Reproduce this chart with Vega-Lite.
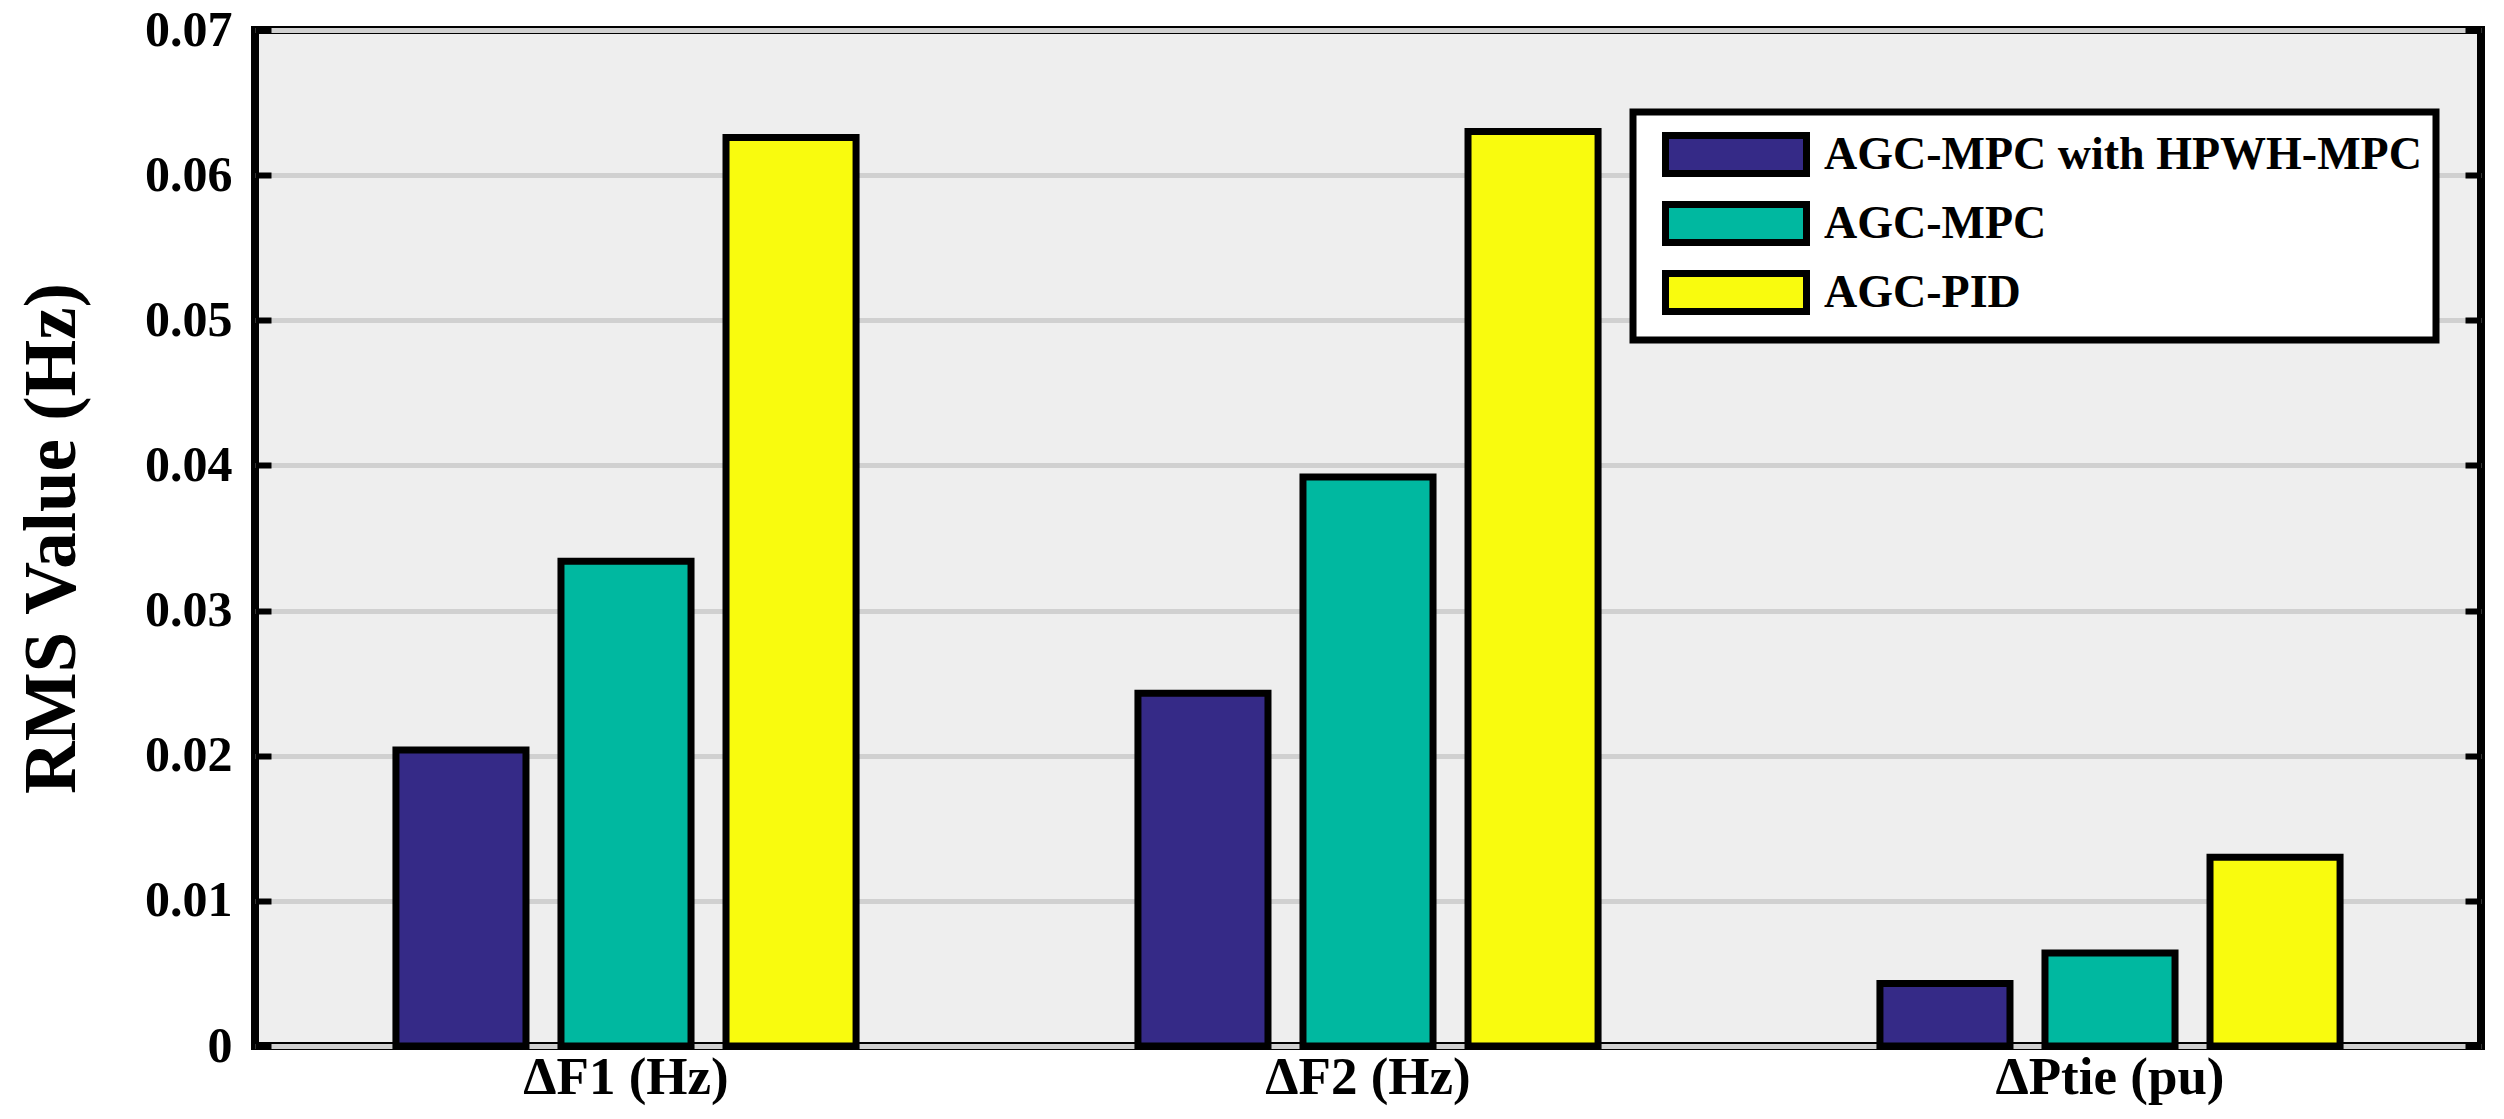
{
  "$schema": "https://vega.github.io/schema/vega-lite/v6.json",
  "width": 2226,
  "height": 1016,
  "autosize": {"type": "none"},
  "padding": {"left": 255, "top": 30, "right": 23, "bottom": 73},
  "background": "white",
  "config": {
    "view": {"fill": "#eeeeee", "stroke": "black", "strokeWidth": 8},
    "font": "Liberation Serif"
  },
  "data": {
    "values": [
      {"metric": "ΔF1 (Hz)", "controller": "AGC-MPC with HPWH-MPC", "rms": 0.0204},
      {"metric": "ΔF1 (Hz)", "controller": "AGC-MPC", "rms": 0.0334},
      {"metric": "ΔF1 (Hz)", "controller": "AGC-PID", "rms": 0.0626},
      {"metric": "ΔF2 (Hz)", "controller": "AGC-MPC with HPWH-MPC", "rms": 0.0243},
      {"metric": "ΔF2 (Hz)", "controller": "AGC-MPC", "rms": 0.0392},
      {"metric": "ΔF2 (Hz)", "controller": "AGC-PID", "rms": 0.0630},
      {"metric": "ΔPtie (pu)", "controller": "AGC-MPC with HPWH-MPC", "rms": 0.0043},
      {"metric": "ΔPtie (pu)", "controller": "AGC-MPC", "rms": 0.0064},
      {"metric": "ΔPtie (pu)", "controller": "AGC-PID", "rms": 0.0130}
    ]
  },
  "encoding": {
    "x": {
      "field": "metric",
      "type": "nominal",
      "sort": ["ΔF1 (Hz)", "ΔF2 (Hz)", "ΔPtie (pu)"],
      "scale": {"paddingInner": 0, "paddingOuter": 0},
      "axis": {
        "title": null,
        "labelAngle": 0,
        "labelFontSize": 53,
        "labelFontWeight": "bold",
        "labelFont": "Liberation Serif",
        "labelColor": "black",
        "labelPadding": 5,
        "labelLimit": 0,
        "ticks": false,
        "domain": false,
        "grid": false
      }
    },
    "xOffset": {
      "field": "controller",
      "type": "nominal",
      "sort": ["AGC-MPC with HPWH-MPC", "AGC-MPC", "AGC-PID"],
      "scale": {"paddingInner": 0.212, "paddingOuter": 0.854}
    }
  },
  "layer": [
    {
      "mark": {"type": "bar", "stroke": "black", "strokeWidth": 7, "opacity": 1},
      "encoding": {
        "y": {
          "field": "rms",
          "type": "quantitative",
          "scale": {"domain": [0, 0.07], "nice": false, "zero": true},
          "axis": {
            "title": "RMS Value (Hz)",
            "titleFontSize": 73,
            "titleFontWeight": "bold",
            "titleFont": "Liberation Serif",
            "titleColor": "black",
            "titlePadding": 55,
            "values": [0, 0.01, 0.02, 0.03, 0.04, 0.05, 0.06, 0.07],
            "format": ".2~f",
            "labelFontSize": 50,
            "labelFontWeight": "bold",
            "labelFont": "Liberation Serif",
            "labelColor": "black",
            "offset": -16,
            "labelPadding": 23,
            "tickSize": 16,
            "tickColor": "black",
            "tickWidth": 6,
            "domain": false,
            "grid": true,
            "gridColor": "#d0d0d0",
            "gridWidth": 5
          }
        },
        "color": {
          "field": "controller",
          "type": "nominal",
          "sort": ["AGC-MPC with HPWH-MPC", "AGC-MPC", "AGC-PID"],
          "scale": {
            "domain": ["AGC-MPC with HPWH-MPC", "AGC-MPC", "AGC-PID"],
            "range": ["#352a87", "#00b8a0", "#f9fb0e"]
          },
          "legend": {
            "title": null,
            "orient": "none",
            "legendX": 1378,
            "legendY": 82,
            "fillColor": "white",
            "strokeColor": "black",
            "padding": 14,
            "symbolType": "M-0.4,-0.76H5.24V0.76H-0.4Z",
            "symbolSize": 2500,
            "symbolStrokeColor": "black",
            "symbolStrokeWidth": 7,
            "symbolOpacity": 1,
            "labelFontSize": 46,
            "labelFont": "Liberation Serif",
            "labelFontWeight": "bold",
            "labelColor": "black",
            "labelOffset": 120,
            "labelLimit": 0,
            "rowPadding": 2,
            "encode": {
              "legend": {"update": {"strokeWidth": {"value": 7}}}
            }
          }
        }
      }
    },
    {
      "mark": {"type": "bar", "fillOpacity": 0, "strokeOpacity": 0},
      "encoding": {
        "y": {
          "field": "rms",
          "type": "quantitative",
          "scale": {"domain": [0, 0.07], "nice": false, "zero": true},
          "axis": {
            "orient": "right",
            "title": null,
            "labels": false,
            "values": [0, 0.01, 0.02, 0.03, 0.04, 0.05, 0.06, 0.07],
            "offset": -16,
            "tickSize": 16,
            "tickColor": "black",
            "tickWidth": 6,
            "domain": false,
            "grid": false
          }
        }
      }
    }
  ],
  "resolve": {"axis": {"y": "independent"}}
}
